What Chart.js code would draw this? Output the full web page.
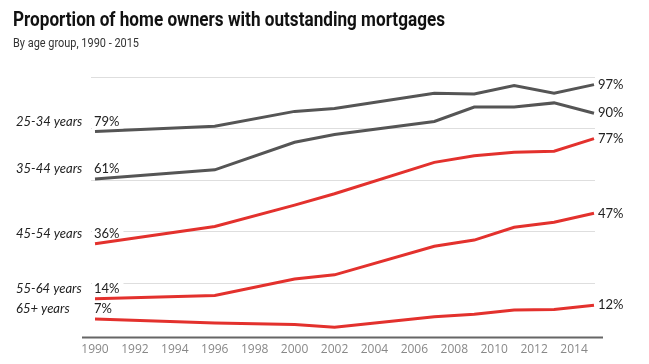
<!DOCTYPE html>
<html>
<head>
<meta charset="utf-8">
<script src="https://cdn.jsdelivr.net/npm/chart.js@4"></script>
<style>
  html, body { margin: 0; padding: 0; background: #fff; }
  #wrap { position: relative; width: 649px; height: 364px; overflow: hidden; }
  #titulo { position: absolute; left: 13px; top: 9px; font: bold 21px/21px Roboto; color: #111; white-space: nowrap; transform-origin: 0 0; }
  #subtitulo { position: absolute; left: 13px; top: 36px; font: 13px/13px Roboto; color: #333; white-space: nowrap; transform-origin: 0 0; }
  canvas { position: absolute; left: 0; top: 0; }
</style>
</head>
<body>
<div id="wrap">
  <canvas id="grafico" width="649" height="364"></canvas>
  <div id="titulo">Proportion of home owners with outstanding mortgages</div>
  <div id="subtitulo">By age group, 1990 - 2015</div>
</div>
<script>
// Datos
var anios = [1990, 1996, 2000, 2002, 2007, 2009, 2011, 2013, 2015];
var edad2534 = [79, 81, 86.8, 87.9, 93.8, 93.6, 96.8, 93.9, 97.2];
var edad3544 = [60.5, 64.1, 74.8, 77.8, 82.9, 88.5, 88.5, 90.1, 86.1];
var edad4554 = [35.4, 42.1, 50.4, 54.8, 67.0, 69.6, 70.9, 71.3, 76.2];
var edad5564 = [14.0, 15.3, 21.7, 23.3, 34.4, 36.8, 41.8, 43.7, 47.2];
var edad65 = [6.1, 4.6, 4.0, 2.9, 7.0, 8.0, 9.6, 9.8, 11.5];
var grupos = ['25-34 years', '35-44 years', '45-54 years', '55-64 years', '65+ years'];
var etiquetasInicio = ['79%', '61%', '36%', '14%', '7%'];
var etiquetasFin = ['97%', '90%', '77%', '47%', '12%'];
var etiquetasX = [1990, 1992, 1994, 1996, 1998, 2000, 2002, 2004, 2006, 2008, 2010, 2012, 2014];

// Ajustar titulos (fuente condensada)
function encoger(id, ancho) {
  var el = document.getElementById(id);
  el.style.transform = 'scaleX(' + (ancho / el.getBoundingClientRect().width) + ')';
}
encoger('titulo', 432);
encoger('subtitulo', 126);

var GRIS = '#555555';
var ROJO = '#e3312d';
var series = [edad2534, edad3544, edad4554, edad5564, edad65];
var colores = [GRIS, GRIS, ROJO, ROJO, ROJO];

const datos = {
  datasets: series.map(function (s, i) {
    return {
      label: grupos[i],
      data: s.map(function (v, j) { return { x: anios[j], y: v }; }),
      borderColor: colores[i],
      borderWidth: 3,
      pointRadius: 0,
      tension: 0,
      fill: false
    };
  })
};

// Etiquetas de grupo, valor inicial y valor final
const etiquetas = {
  id: 'etiquetas',
  beforeDatasetsDraw(chart) {
    const ctx = chart.ctx;
    ctx.save();
    ctx.textBaseline = 'middle';
    ctx.textAlign = 'left';
    chart.data.datasets.forEach(function (ds, i) {
      const p = chart.getDatasetMeta(i).data[0];
      const y = p.y - 10;
      ctx.font = 'italic 13px Lato';
      ctx.fillStyle = '#222';
      ctx.fillText(grupos[i], chart.chartArea.left - 75, y);
      ctx.font = '13px Lato';
      const w = ctx.measureText(etiquetasInicio[i]).width;
      ctx.fillStyle = '#fff';
      ctx.fillRect(p.x - 3, y - 8, w + 6, 16);
      ctx.fillStyle = '#222';
      ctx.fillText(etiquetasInicio[i], p.x - 1, y);
    });
    ctx.restore();
  },
  afterDatasetsDraw(chart) {
    const ctx = chart.ctx;
    ctx.save();
    ctx.textBaseline = 'middle';
    ctx.textAlign = 'left';
    ctx.font = '13px Lato';
    ctx.fillStyle = '#222';
    chart.data.datasets.forEach(function (ds, i) {
      const pts = chart.getDatasetMeta(i).data;
      const p = pts[pts.length - 1];
      ctx.fillText(etiquetasFin[i], p.x + 4, p.y);
    });
    // linea del eje x algo mas ancha que el area
    const a = chart.chartArea;
    ctx.strokeStyle = '#666';
    ctx.lineWidth = 2;
    ctx.beginPath();
    ctx.moveTo(a.left - 9, a.bottom);
    ctx.lineTo(a.right + 8, a.bottom);
    ctx.stroke();
    ctx.restore();
  }
};

new Chart(document.getElementById('grafico'), {
  type: 'line',
  data: datos,
  plugins: [etiquetas],
  options: {
    responsive: false,
    animation: false,
    layout: { padding: { left: 91, right: 54, top: 77.4, bottom: 2.2 } },
    plugins: {
      legend: { display: false },
      title: { display: false },
      tooltip: { enabled: false }
    },
    scales: {
      x: {
        type: 'linear',
        min: 1989.8,
        max: 2015.05,
        afterBuildTicks: function (s) { s.ticks = etiquetasX.map(function (v) { return { value: v }; }); },
        grid: { display: false, drawTicks: false, tickLength: 0 },
        border: { display: false },
        ticks: {
          autoSkip: false,
          maxRotation: 0,
          padding: 5,
          color: '#888',
          font: { family: 'Open Sans', size: 12 },
          callback: function (v) { return String(v); }
        }
      },
      y: {
        min: -1,
        max: 100,
        ticks: { display: false, stepSize: 20 },
        border: { display: false },
        grid: {
          drawTicks: false,
          color: function (c) { return c.tick && c.tick.value > 0 ? '#dedede' : 'rgba(0,0,0,0)'; }
        }
      }
    }
  }
});
</script>
</body>
</html>
